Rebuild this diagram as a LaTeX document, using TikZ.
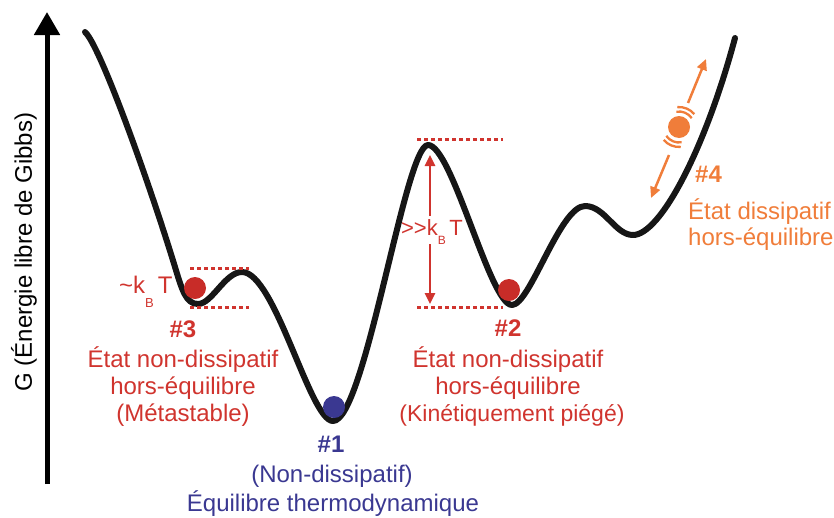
\documentclass[tikz,border=0pt]{standalone}
\usepackage{fontspec}
\setmainfont{Liberation Sans}
\usetikzlibrary{arrows.meta}
\definecolor{cred}{RGB}{208,52,46}
\definecolor{cball}{RGB}{200,44,40}
\definecolor{cblue}{RGB}{58,56,145}
\definecolor{corange}{RGB}{240,125,58}
\definecolor{ccurve}{RGB}{22,22,22}
\begin{document}
\begin{tikzpicture}[x=1pt,y=-1pt,
  curve/.style={line width=6pt, line cap=round, line join=round, ccurve},
  level/.style={cred, line width=3pt, dash pattern=on 4pt off 3pt},
  ball/.style={circle, minimum size=22pt, inner sep=0pt},
  lab/.style={font=\fontsize{24}{24}\selectfont, inner sep=0pt, anchor=base},
  labw/.style={font=\fontsize{24}{24}\selectfont, inner sep=0pt, anchor=base west},
  hash/.style={font=\fontsize{24}{24}\selectfont\bfseries, inner sep=0pt, anchor=base},
  redarrow/.style={cred, line width=2.5pt, -{Triangle[length=11pt,width=10pt]}},
  orarrow/.style={corange, line width=2.5pt, -{Triangle[length=11pt,width=10pt]}},
  vib/.style={corange, line width=2.3pt},
]
\useasboundingbox (0,0) rectangle (834,517);

% axis
\coordinate (axbot) at (47,484);
\coordinate (axtop) at (47,12);
\draw[line width=5pt, -{Triangle[length=23pt,width=25pt]}] (axbot) -- (axtop);
\node[rotate=90, font=\fontsize{24}{24}\selectfont, inner sep=0pt] (ylab) at (24,252) {G (Énergie libre de Gibbs)};

% energy landscape
\draw[curve] (85,32) .. controls (100,45) and (150,185) .. (175,267)
 .. controls (182,290) and (186,304) .. (198,304)
 .. controls (212,304) and (225,272) .. (242,272)
 .. controls (275,272) and (310,421) .. (333,421)
 .. controls (365,421) and (405,145) .. (428,145)
 .. controls (452,145) and (490,305) .. (512,305)
 .. controls (530,305) and (560,206) .. (585,206)
 .. controls (605,206) and (615,235) .. (633,235)
 .. controls (660,235) and (705,150) .. (735,38);

% level lines
\coordinate (l3ua) at (190,268); \coordinate (l3ub) at (249,268);
\coordinate (l3la) at (190,307); \coordinate (l3lb) at (249,307);
\coordinate (l2ua) at (417,139); \coordinate (l2ub) at (503,139);
\coordinate (l2la) at (417,307); \coordinate (l2lb) at (503,307);
\draw[level] (l3ua) -- (l3ub);
\draw[level] (l3la) -- (l3lb);
\draw[level] (l2ua) -- (l2ub);
\draw[level] (l2la) -- (l2lb);

% balls
\node[ball, fill=cball] (b3) at (195,288) {};
\node[ball, fill=cblue] (b1) at (334,407) {};
\node[ball, fill=cball] (b2) at (509,290) {};
\node[ball, fill=corange] (b4) at (679,127) {};

% kBT labels
\node[labw, cred] (kbt3) at (119,293) {\textasciitilde k\raisebox{-14pt}{\fontsize{13}{13}\selectfont B}\,T};
\node[lab, cred, font=\fontsize{22}{22}\selectfont] (kbt2) at (432,235) {>{}>k\raisebox{-9pt}{\fontsize{12}{12}\selectfont B}\,T};

% barrier arrows
\coordinate (a2top) at (430,155);
\coordinate (a2bot) at (430,304);
\coordinate (a2s1) at (430,216);
\coordinate (a2s2) at (430,244);
\draw[redarrow] (a2s1) -- (a2top);
\draw[redarrow] (a2s2) -- (a2bot);

% vibration arrows for #4
\coordinate (o1s) at (688,103); \coordinate (o1e) at (706,59);
\coordinate (o2s) at (669,155); \coordinate (o2e) at (651,198);
\draw[orarrow] (o1s) -- (o1e);
\draw[orarrow] (o2s) -- (o2e);
\draw[vib] ([shift={(35:15.5pt)}]b4.center) arc[start angle=35, end angle=100, radius=15.5pt];
\draw[vib] ([shift={(40:20pt)}]b4.center) arc[start angle=40, end angle=95, radius=20pt];
\draw[vib] ([shift={(215:15.5pt)}]b4.center) arc[start angle=215, end angle=280, radius=15.5pt];
\draw[vib] ([shift={(220:20pt)}]b4.center) arc[start angle=220, end angle=275, radius=20pt];

% #3 labels
\node[hash, cred] (h3) at (183,337) {\#3};
\node[lab, cred] (t3a) at (183,367) {État non-dissipatif};
\node[lab, cred] (t3b) at (183,394) {hors-équilibre};
\node[lab, cred] (t3c) at (183,421) {(Métastable)};

% #2 labels
\node[hash, cred] (h2) at (508,336) {\#2};
\node[lab, cred] (t2a) at (508,367) {État non-dissipatif};
\node[lab, cred] (t2b) at (508,394) {hors-équilibre};
\node[lab, cred, font=\fontsize{23}{23}\selectfont] (t2c) at (512,421) {(Kinétiquement piégé)};

% #1 labels
\node[hash, cblue] (h1) at (331,452) {\#1};
\node[lab, cblue] (t1a) at (332,482) {(Non-dissipatif)};
\node[lab, cblue] (t1b) at (333,511) {Équilibre thermodynamique};

% #4 labels
\node[hash, corange, anchor=base west] (h4) at (695,182) {\#4};
\node[labw, corange] (t4a) at (688,219) {État dissipatif};
\node[labw, corange] (t4b) at (688,245) {hors-équilibre};
\end{tikzpicture}
\end{document}
